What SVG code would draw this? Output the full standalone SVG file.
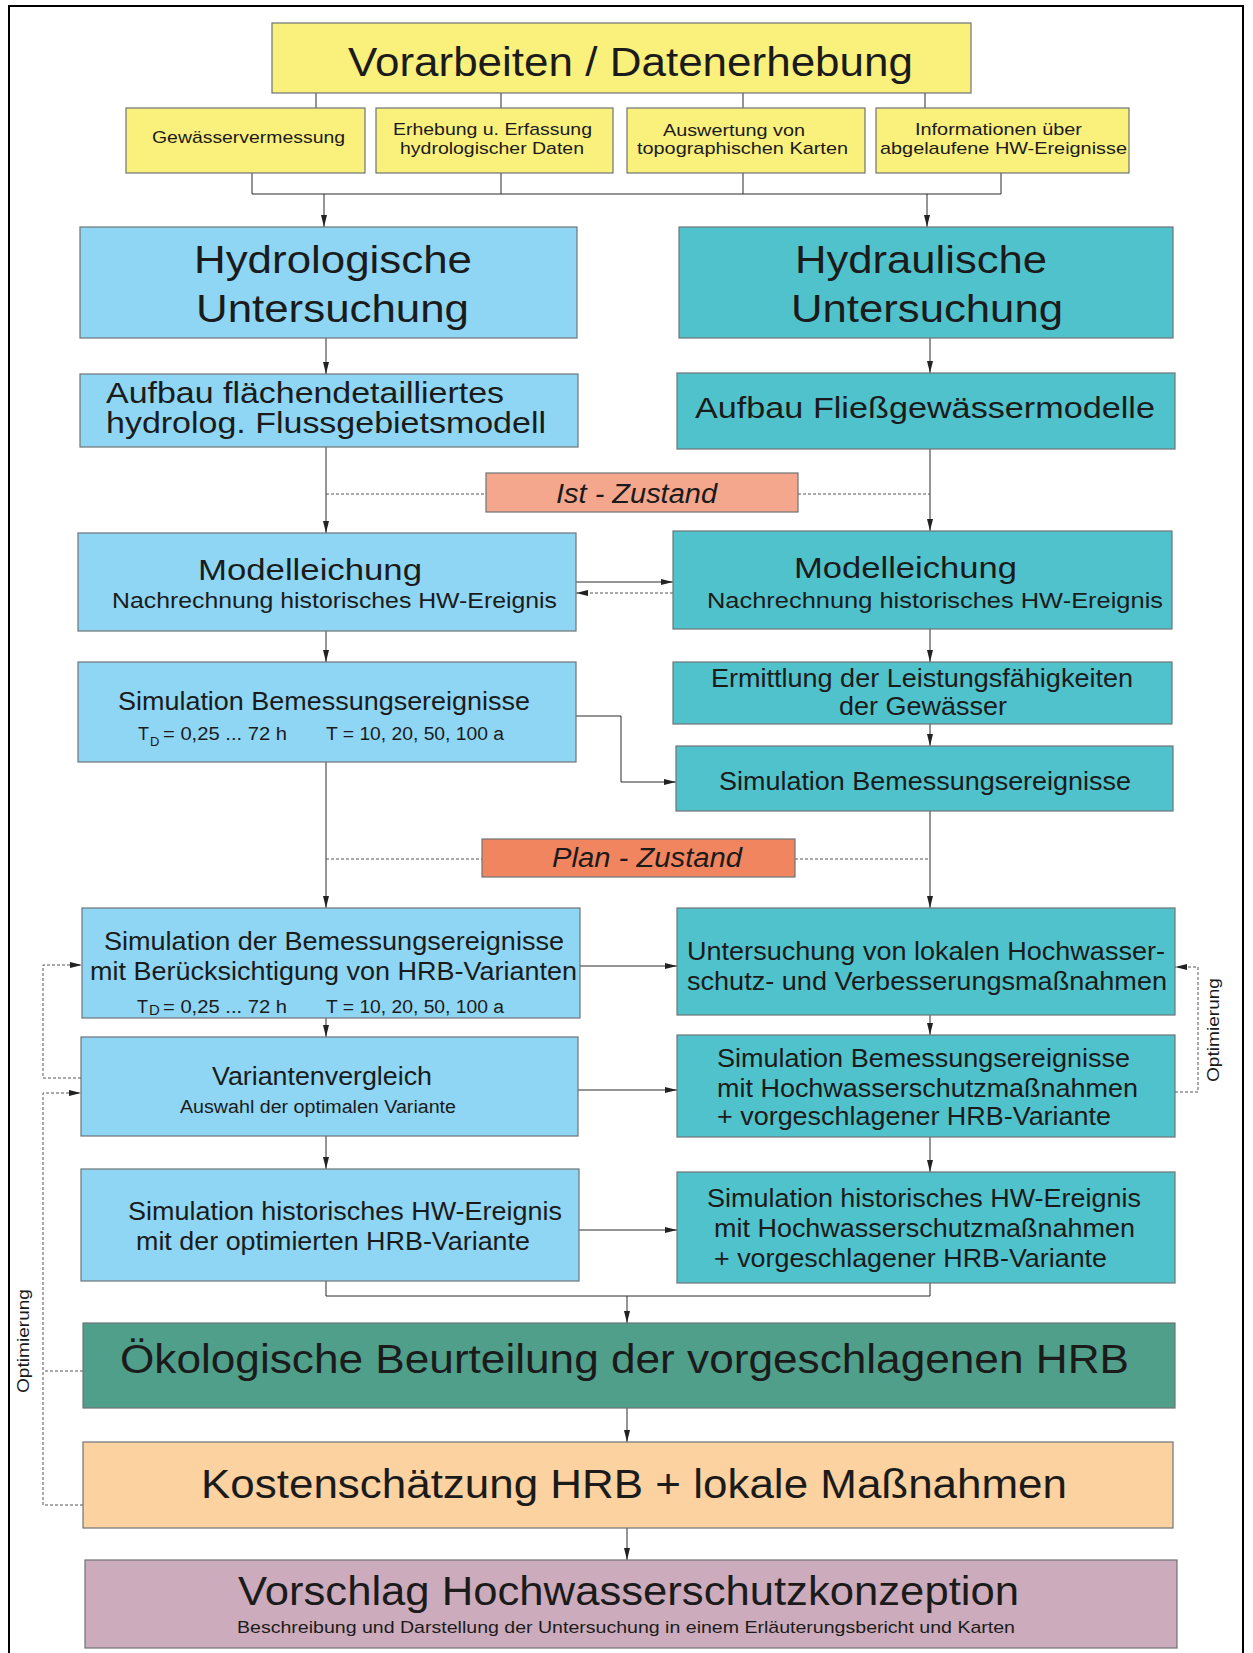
<svg xmlns="http://www.w3.org/2000/svg" width="1253" height="1653" viewBox="0 0 1253 1653">
<style>
text{font-family:"Liberation Sans",Arial,Helvetica,sans-serif;fill:#1b1b1b;}
.box{stroke:#6e7478;stroke-width:1.2;}
.y{fill:#faf07c;} .lb{fill:#8ed6f3;} .tl{fill:#50c2cb;} .ist{fill:#f4a78c;} .plan{fill:#f1855f;}
.gr{fill:#4f9f8a;} .ko{fill:#fbd2a0;} .vo{fill:#ccabbc;}
.c{fill:none;stroke:#2a2a2a;stroke-width:1;}
.d{fill:none;stroke:#555;stroke-width:1;stroke-dasharray:3,2;}
.t40{font-size:40px;} .t38{font-size:38px;} .t30{font-size:30px;} .t25{font-size:25px;}
.t22{font-size:22px;} .ti{font-size:27px;font-style:italic;} .t18{font-size:18px;} .t17{font-size:17px;}
</style>
<defs>
<marker id="ah" viewBox="0 0 12 6" refX="12" refY="3" markerWidth="12" markerHeight="6" markerUnits="userSpaceOnUse" orient="auto">
<path d="M0,0 L12,3 L0,6 z" fill="#222"/>
</marker>
</defs>
<rect x="9" y="6" width="1234" height="1670" fill="#fff" stroke="#000" stroke-width="2"/>

<g id="connectors">
<path class="c" d="M316,93V108 M501,93V108 M743,93V108 M925,93V108"/>
<path class="c" d="M252,173V194 M501,173V194 M743,173V194 M1001,173V194 M252,194H1001"/>
<path class="c" marker-end="url(#ah)" d="M324,194V227"/>
<path class="c" marker-end="url(#ah)" d="M927,194V227"/>
<path class="c" marker-end="url(#ah)" d="M326,338V374"/>
<path class="c" marker-end="url(#ah)" d="M930,338V373"/>
<path class="c" marker-end="url(#ah)" d="M326,447V533"/>
<path class="c" marker-end="url(#ah)" d="M930,449V531"/>
<path class="d" d="M326,494H486 M798,494H930"/>
<path class="c" marker-end="url(#ah)" d="M576,582H673"/>
<path class="d" marker-end="url(#ah)" d="M673,593H576"/>
<path class="c" marker-end="url(#ah)" d="M326,631V662"/>
<path class="c" marker-end="url(#ah)" d="M930,629V662"/>
<path class="c" marker-end="url(#ah)" d="M576,716H621V782H676"/>
<path class="c" marker-end="url(#ah)" d="M930,724V746"/>
<path class="c" marker-end="url(#ah)" d="M326,762V908"/>
<path class="c" marker-end="url(#ah)" d="M930,811V908"/>
<path class="d" d="M326,859H482 M795,859H930"/>
<path class="c" marker-end="url(#ah)" d="M580,966H677"/>
<path class="c" marker-end="url(#ah)" d="M326,1018V1037"/>
<path class="c" marker-end="url(#ah)" d="M930,1015V1035"/>
<path class="c" marker-end="url(#ah)" d="M578,1090H677"/>
<path class="d" marker-end="url(#ah)" d="M1175,1092H1198V967H1175"/>
<path class="d" marker-end="url(#ah)" d="M81,1078H43V965H82"/>
<path class="d" marker-end="url(#ah)" d="M83,1505H43V1093H81"/>
<path class="d" d="M83,1371H43"/>
<path class="c" marker-end="url(#ah)" d="M326,1136V1169"/>
<path class="c" marker-end="url(#ah)" d="M930,1137V1172"/>
<path class="c" marker-end="url(#ah)" d="M579,1230H677"/>
<path class="c" d="M326,1281V1296H930V1283"/>
<path class="c" marker-end="url(#ah)" d="M627,1296V1323"/>
<path class="c" marker-end="url(#ah)" d="M627,1408V1442"/>
<path class="c" marker-end="url(#ah)" d="M627,1528V1560"/>
<text class="t17" transform="translate(1219,1030) rotate(-90)" text-anchor="middle" x="0" y="0" textLength="104" lengthAdjust="spacingAndGlyphs">Optimierung</text>
<text class="t17" transform="translate(29,1341) rotate(-90)" text-anchor="middle" x="0" y="0" textLength="104" lengthAdjust="spacingAndGlyphs">Optimierung</text>
</g>

<g id="vorarbeiten">
<rect class="box y" x="272" y="23" width="699" height="70"/>
<text class="t40" x="348" y="76" textLength="565" lengthAdjust="spacingAndGlyphs">Vorarbeiten / Datenerhebung</text>
</g>
<g id="gewaesservermessung">
<rect class="box y" x="126" y="108" width="239" height="65"/>
<text class="t17" x="152" y="143" textLength="193" lengthAdjust="spacingAndGlyphs">Gewässervermessung</text>
</g>
<g id="erhebung">
<rect class="box y" x="376" y="108" width="237" height="65"/>
<text class="t17" x="393" y="135" textLength="199" lengthAdjust="spacingAndGlyphs">Erhebung u. Erfassung</text>
<text class="t17" x="400" y="154" textLength="184" lengthAdjust="spacingAndGlyphs">hydrologischer Daten</text>
</g>
<g id="auswertung">
<rect class="box y" x="627" y="108" width="238" height="65"/>
<text class="t17" x="663" y="136" textLength="142" lengthAdjust="spacingAndGlyphs">Auswertung von</text>
<text class="t17" x="637" y="154" textLength="211" lengthAdjust="spacingAndGlyphs">topographischen Karten</text>
</g>
<g id="informationen">
<rect class="box y" x="876" y="108" width="253" height="65"/>
<text class="t17" x="915" y="135" textLength="167" lengthAdjust="spacingAndGlyphs">Informationen über</text>
<text class="t17" x="880" y="154" textLength="247" lengthAdjust="spacingAndGlyphs">abgelaufene HW-Ereignisse</text>
</g>

<g id="hydrologische">
<rect class="box lb" x="80" y="227" width="497" height="111"/>
<text class="t38" x="194" y="273" textLength="278" lengthAdjust="spacingAndGlyphs">Hydrologische</text>
<text class="t38" x="196" y="322" textLength="273" lengthAdjust="spacingAndGlyphs">Untersuchung</text>
</g>
<g id="hydraulische">
<rect class="box tl" x="679" y="227" width="494" height="111"/>
<text class="t38" x="795" y="273" textLength="252" lengthAdjust="spacingAndGlyphs">Hydraulische</text>
<text class="t38" x="791" y="322" textLength="272" lengthAdjust="spacingAndGlyphs">Untersuchung</text>
</g>
<g id="aufbau-hydrolog">
<rect class="box lb" x="80" y="374" width="498" height="73"/>
<text class="t30" x="106" y="403" textLength="398" lengthAdjust="spacingAndGlyphs">Aufbau flächendetailliertes</text>
<text class="t30" x="106" y="433" textLength="440" lengthAdjust="spacingAndGlyphs">hydrolog. Flussgebietsmodell</text>
</g>
<g id="aufbau-fliess">
<rect class="box tl" x="677" y="373" width="498" height="76"/>
<text class="t30" x="695" y="418" textLength="460" lengthAdjust="spacingAndGlyphs">Aufbau Fließgewässermodelle</text>
</g>
<g id="ist-zustand">
<rect class="box ist" x="486" y="473" width="312" height="39"/>
<text class="ti" x="556" y="503" textLength="161" lengthAdjust="spacingAndGlyphs">Ist - Zustand</text>
</g>
<g id="modelleichung-links">
<rect class="box lb" x="78" y="533" width="498" height="98"/>
<text class="t30" x="198" y="580" textLength="224" lengthAdjust="spacingAndGlyphs">Modelleichung</text>
<text class="t22" x="112" y="608" textLength="445" lengthAdjust="spacingAndGlyphs">Nachrechnung historisches HW-Ereignis</text>
</g>
<g id="modelleichung-rechts">
<rect class="box tl" x="673" y="531" width="499" height="98"/>
<text class="t30" x="794" y="578" textLength="223" lengthAdjust="spacingAndGlyphs">Modelleichung</text>
<text class="t22" x="707" y="608" textLength="456" lengthAdjust="spacingAndGlyphs">Nachrechnung historisches HW-Ereignis</text>
</g>
<g id="simulation-links">
<rect class="box lb" x="78" y="662" width="498" height="100"/>
<text class="t25" x="118" y="710" textLength="412" lengthAdjust="spacingAndGlyphs">Simulation Bemessungsereignisse</text>
<text class="t18" x="138" y="740">T</text>
<text class="t18" x="150" y="746" style="font-size:13px">D</text>
<text class="t18" x="163" y="740" textLength="124" lengthAdjust="spacingAndGlyphs">= 0,25 ... 72 h</text>
<text class="t18" x="326" y="740" textLength="178" lengthAdjust="spacingAndGlyphs">T = 10, 20, 50, 100 a</text>
</g>
<g id="ermittlung">
<rect class="box tl" x="673" y="662" width="499" height="62"/>
<text class="t25" x="711" y="687" textLength="422" lengthAdjust="spacingAndGlyphs">Ermittlung der Leistungsfähigkeiten</text>
<text class="t25" x="839" y="715" textLength="168" lengthAdjust="spacingAndGlyphs">der Gewässer</text>
</g>
<g id="simulation-rechts">
<rect class="box tl" x="676" y="746" width="497" height="65"/>
<text class="t25" x="719" y="790" textLength="412" lengthAdjust="spacingAndGlyphs">Simulation Bemessungsereignisse</text>
</g>
<g id="plan-zustand">
<rect class="box plan" x="482" y="839" width="313" height="38"/>
<text class="ti" x="552" y="867" textLength="190" lengthAdjust="spacingAndGlyphs">Plan - Zustand</text>
</g>
<g id="simulation-hrb">
<rect class="box lb" x="82" y="908" width="498" height="110"/>
<text class="t25" x="104" y="950" textLength="460" lengthAdjust="spacingAndGlyphs">Simulation der Bemessungsereignisse</text>
<text class="t25" x="90" y="980" textLength="487" lengthAdjust="spacingAndGlyphs">mit Berücksichtigung von HRB-Varianten</text>
<text class="t18" x="137" y="1013">T</text>
<text class="t18" x="149" y="1015" style="font-size:15px">D</text>
<text class="t18" x="163" y="1013" textLength="124" lengthAdjust="spacingAndGlyphs">= 0,25 ... 72 h</text>
<text class="t18" x="326" y="1013" textLength="178" lengthAdjust="spacingAndGlyphs">T = 10, 20, 50, 100 a</text>
</g>
<g id="untersuchung-lokal">
<rect class="box tl" x="677" y="908" width="498" height="107"/>
<text class="t25" x="687" y="960" textLength="478" lengthAdjust="spacingAndGlyphs">Untersuchung von lokalen Hochwasser-</text>
<text class="t25" x="687" y="990" textLength="480" lengthAdjust="spacingAndGlyphs">schutz- und Verbesserungsmaßnahmen</text>
</g>
<g id="variantenvergleich">
<rect class="box lb" x="81" y="1037" width="497" height="99"/>
<text class="t25" x="212" y="1085" textLength="220" lengthAdjust="spacingAndGlyphs">Variantenvergleich</text>
<text class="t18" x="180" y="1113" textLength="276" lengthAdjust="spacingAndGlyphs">Auswahl der optimalen Variante</text>
</g>
<g id="simulation-hw-massnahmen">
<rect class="box tl" x="677" y="1035" width="498" height="102"/>
<text class="t25" x="717" y="1067" textLength="413" lengthAdjust="spacingAndGlyphs">Simulation Bemessungsereignisse</text>
<text class="t25" x="717" y="1097" textLength="421" lengthAdjust="spacingAndGlyphs">mit Hochwasserschutzmaßnahmen</text>
<text class="t25" x="717" y="1125" textLength="394" lengthAdjust="spacingAndGlyphs">+ vorgeschlagener HRB-Variante</text>
</g>
<g id="historisch-links">
<rect class="box lb" x="81" y="1169" width="498" height="112"/>
<text class="t25" x="128" y="1220" textLength="434" lengthAdjust="spacingAndGlyphs">Simulation historisches HW-Ereignis</text>
<text class="t25" x="136" y="1250" textLength="394" lengthAdjust="spacingAndGlyphs">mit der optimierten HRB-Variante</text>
</g>
<g id="historisch-rechts">
<rect class="box tl" x="677" y="1172" width="498" height="111"/>
<text class="t25" x="707" y="1207" textLength="434" lengthAdjust="spacingAndGlyphs">Simulation historisches HW-Ereignis</text>
<text class="t25" x="714" y="1237" textLength="421" lengthAdjust="spacingAndGlyphs">mit Hochwasserschutzmaßnahmen</text>
<text class="t25" x="714" y="1267" textLength="393" lengthAdjust="spacingAndGlyphs">+ vorgeschlagener HRB-Variante</text>
</g>
<g id="oekologische">
<rect class="box gr" x="83" y="1323" width="1092" height="85"/>
<text class="t40" x="120" y="1373" textLength="1009" lengthAdjust="spacingAndGlyphs">Ökologische Beurteilung der vorgeschlagenen HRB</text>
</g>
<g id="kosten">
<rect class="box ko" x="83" y="1442" width="1090" height="86"/>
<text class="t40" x="201" y="1498" textLength="866" lengthAdjust="spacingAndGlyphs">Kostenschätzung HRB + lokale Maßnahmen</text>
</g>
<g id="vorschlag">
<rect class="box vo" x="85" y="1560" width="1092" height="88"/>
<text class="t40" x="238" y="1605" textLength="781" lengthAdjust="spacingAndGlyphs">Vorschlag Hochwasserschutzkonzeption</text>
<text class="t17" x="237" y="1633" textLength="778" lengthAdjust="spacingAndGlyphs">Beschreibung und Darstellung der Untersuchung in einem Erläuterungsbericht und Karten</text>
</g>
</svg>
